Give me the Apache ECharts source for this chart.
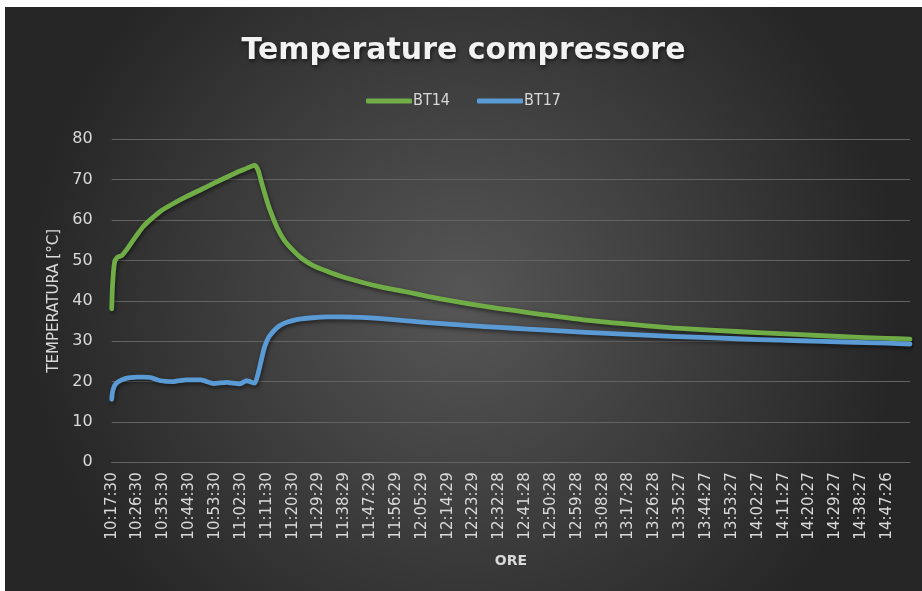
<!DOCTYPE html>
<html>
<head>
<meta charset="utf-8">
<title>Temperature compressore</title>
<script src="https://cdn.jsdelivr.net/npm/echarts@6/dist/echarts.min.js"></script>
<style>
  html, body { margin: 0; padding: 0; background: #ffffff; }
  #chart { position: absolute; left: 5px; top: 7px; width: 917px; height: 584px; }
</style>
</head>
<body>
<div id="chart"></div>
<script>
// etichette asse X (una ogni 9 minuti)
const tickLabels = [
  '10:17:30', '10:26:30', '10:35:30', '10:44:30', '10:53:30', '11:02:30', '11:11:30', '11:20:30',
  '11:29:29', '11:38:29', '11:47:29', '11:56:29', '12:05:29', '12:14:29', '12:23:29', '12:32:28',
  '12:41:28', '12:50:28', '12:59:28', '13:08:28', '13:17:28', '13:26:28', '13:35:27', '13:44:27',
  '13:53:27', '14:02:27', '14:11:27', '14:20:27', '14:29:27', '14:38:27', '14:47:26'
];
// minuti dall'inizio (10:17:30)
const minutes = [
  0, 0.3, 1, 2, 3.5, 5, 6.5, 9, 11, 13.5, 17, 21.5, 26, 31, 35.5, 40, 44.5, 47, 49.8,
  51, 52, 53, 54, 55, 57.5, 60, 63, 66, 70, 75, 80, 87, 94, 102, 110, 120, 130, 140, 150,
  165, 180, 195, 210, 225, 240, 255, 270, 278
];
const bt14 = [
  38, 44, 49.5, 50.8, 51.2, 52.5, 54, 56.5, 58.4, 60.1, 62.2, 64.1, 65.8, 67.5, 69.1, 70.6, 72.1, 72.8, 73.6,
  72.3, 69.8, 67.3, 64.9, 62.7, 58.3, 55.1, 52.6, 50.6, 48.8, 47.3, 46.0, 44.6, 43.4, 42.3, 41.1, 39.8, 38.6, 37.6, 36.6,
  35.2, 34.2, 33.3, 32.7, 32.1, 31.6, 31.1, 30.7, 30.5
];
const bt17 = [
  15.6, 17.5, 19, 19.8, 20.4, 20.8, 21, 21.1, 21.1, 21, 20.2, 20.0, 20.4, 20.4, 19.5, 19.8, 19.4, 20.2, 19.6,
  22, 25, 28, 30, 31.3, 33.3, 34.4, 35.1, 35.5, 35.8, 36.0, 36.0, 35.9, 35.6, 35.1, 34.6, 34.1, 33.6, 33.2, 32.8,
  32.2, 31.7, 31.2, 30.8, 30.4, 30.1, 29.8, 29.5, 29.3
];

const chart = echarts.init(document.getElementById('chart'));

const textColor = '#d9d9d9';
const gridColor = '#636363';

const lineShadow = {
  shadowColor: 'rgba(0,0,0,0.55)',
  shadowBlur: 4,
  shadowOffsetX: 1,
  shadowOffsetY: 2
};

const option = {
  backgroundColor: new echarts.graphic.RadialGradient(0.5, 0.5, 0.75, [
    {offset: 0, color: '#565656'},
    {offset: 1, color: '#262626'}
  ]),
  animation: false,
  title: {
    text: 'Temperature compressore',
    left: 'center',
    top: 24,
    textStyle: {
      color: '#f2f2f2',
      fontFamily: 'DejaVu Sans',
      fontSize: 30,
      fontWeight: 'bold',
      textShadowColor: 'rgba(0,0,0,0.6)',
      textShadowBlur: 4,
      textShadowOffsetX: 1,
      textShadowOffsetY: 2
    }
  },
  legend: {
    top: 81,
    left: 'center',
    itemWidth: 46,
    itemHeight: 5,
    itemGap: 27,
    icon: 'roundRect',
    textStyle: {color: textColor, fontFamily: 'DejaVu Sans Condensed', fontSize: 16, padding: [0, 0, 0, -4]},
    data: ['BT14', 'BT17']
  },
  grid: {
    left: 106.7,
    right: 12,
    top: 132.3,
    bottom: 128.7
  },
  xAxis: {
    type: 'value',
    min: 0,
    max: 278,
    interval: 9,
    name: 'ORE',
    nameLocation: 'middle',
    nameGap: 92,
    nameTextStyle: {color: textColor, fontFamily: 'DejaVu Sans', fontSize: 14, fontWeight: 'bold'},
    axisLine: {show: true, lineStyle: {color: gridColor, width: 1}},
    axisTick: {show: false},
    splitLine: {show: false},
    axisLabel: {
      rotate: 90,
      margin: 10,
      color: textColor,
      fontFamily: 'DejaVu Sans',
      fontSize: 15,
      showMaxLabel: false,
      formatter: function (v) {
        if (v % 9 !== 0) return '';
        return tickLabels[v / 9] || '';
      }
    }
  },
  yAxis: {
    type: 'value',
    min: 0,
    max: 80,
    interval: 10,
    name: 'TEMPERATURA [°C]',
    nameLocation: 'middle',
    nameGap: 50,
    nameTextStyle: {color: textColor, fontFamily: 'DejaVu Sans', fontSize: 15},
    axisLine: {show: false},
    axisTick: {show: false},
    splitLine: {lineStyle: {color: gridColor, width: 1}},
    axisLabel: {color: textColor, fontFamily: 'DejaVu Sans', fontSize: 16, margin: 19}
  },
  series: [
    {
      name: 'BT14',
      type: 'line',
      showSymbol: false,
      smooth: 0.2,
      color: '#70ad47',
      lineStyle: Object.assign({width: 4.8, cap: 'round', join: 'round'}, lineShadow),
      data: minutes.map((m, i) => [m, bt14[i]])
    },
    {
      name: 'BT17',
      type: 'line',
      showSymbol: false,
      smooth: 0.2,
      color: '#5b9bd5',
      lineStyle: Object.assign({width: 4.8, cap: 'round', join: 'round'}, lineShadow),
      data: minutes.map((m, i) => [m, bt17[i]])
    }
  ]
};

chart.setOption(option);
</script>
</body>
</html>
